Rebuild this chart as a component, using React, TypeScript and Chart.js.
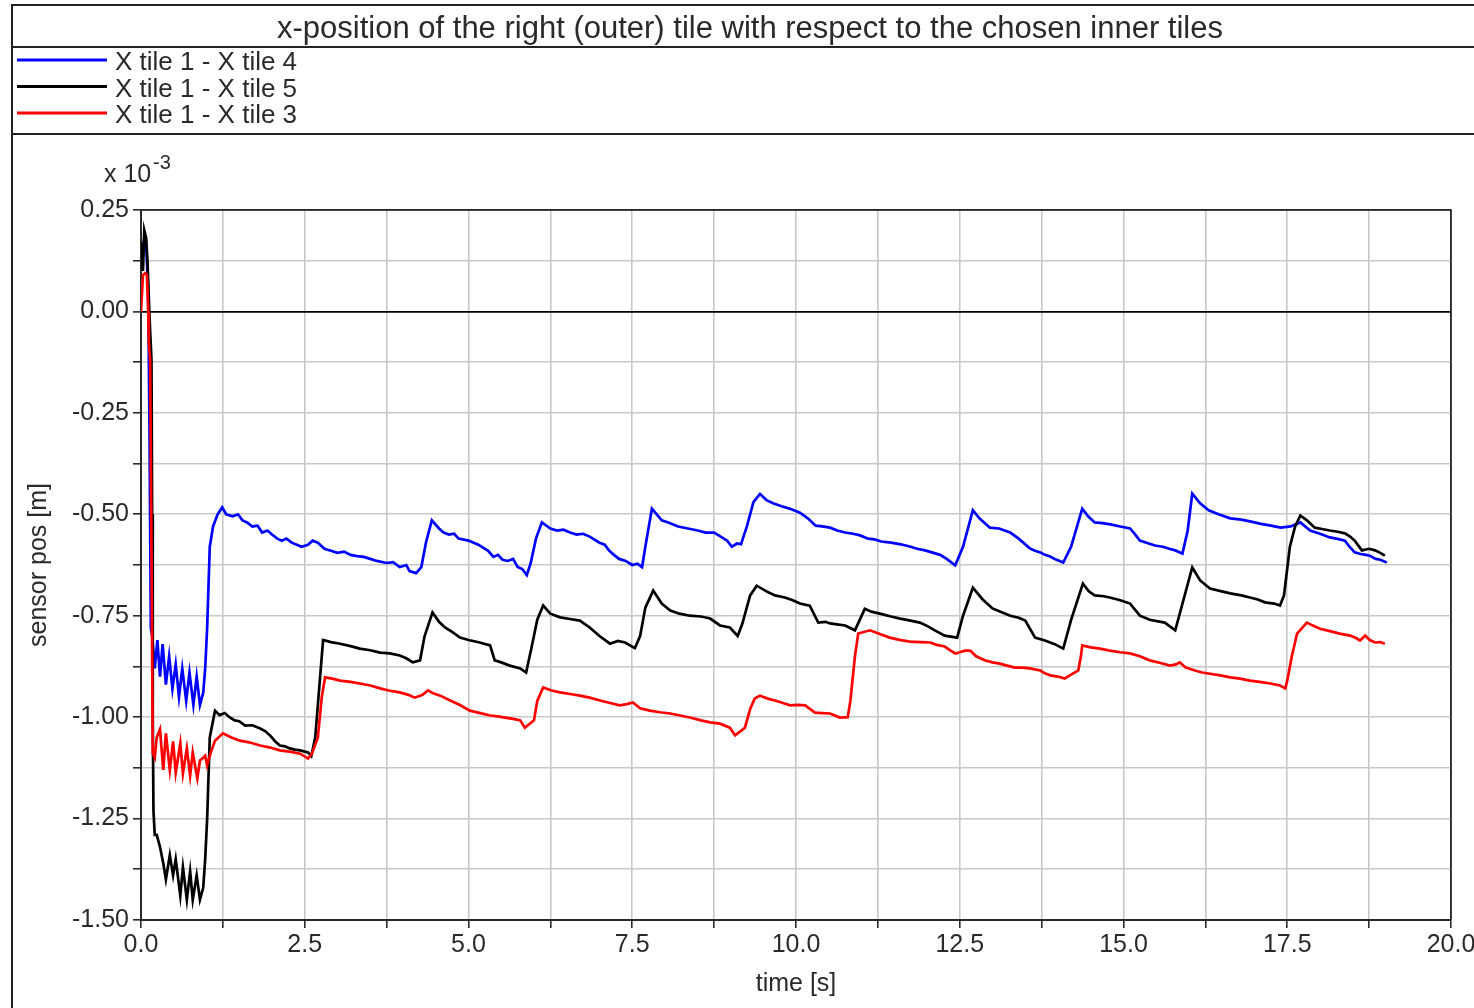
import { useEffect, useRef } from "react";
import { Chart, registerables } from "chart.js";

Chart.register(...registerables);

const FONT = '"Liberation Sans", Arial, Helvetica, sans-serif';
const TEXT_COLOR = "#2a2a2a";

const TITLE = "x-position of the right (outer) tile with respect to the chosen inner tiles";
const SERIES_NAMES = ["X tile 1 - X tile 4", "X tile 1 - X tile 5", "X tile 1 - X tile 3"];
const SERIES_COLORS = ["#0000ff", "#000000", "#ff0000"];
const X_TITLE = "time [s]";
const Y_TITLE = "sensor pos [m]";
const Y_EXPONENT_BASE = "x 10";
const Y_EXPONENT_POWER = "-3";

const X_MIN = 0;
const X_MAX = 20;
const X_GRID_STEP = 1.25;
const X_LABEL_STEP = 2.5;
const Y_MIN = -1.5;
const Y_MAX = 0.25;
const Y_GRID_STEP = 0.125;
const Y_LABEL_STEP = 0.25;

// [time s, position x10^-3 m]
const TILE1_MINUS_TILE4: [number, number][] = [
  [0, 0.12], [0.04, 0.17], [0.08, 0.16], [0.11, 0.05], [0.13, -0.3], [0.15, -0.78], [0.17, -0.8],
  [0.21, -0.88], [0.25, -0.81], [0.29, -0.9], [0.33, -0.82], [0.38, -0.92], [0.43, -0.85], [0.48, -0.93],
  [0.53, -0.87], [0.58, -0.95], [0.63, -0.88], [0.69, -0.96], [0.74, -0.89], [0.8, -0.97], [0.85, -0.9],
  [0.9, -0.97], [0.95, -0.94], [0.98, -0.88], [1.01, -0.78], [1.05, -0.58], [1.1, -0.53], [1.17, -0.5],
  [1.24, -0.483], [1.3, -0.5], [1.4, -0.505], [1.48, -0.5], [1.55, -0.515], [1.62, -0.52], [1.7, -0.53],
  [1.78, -0.528], [1.85, -0.545], [1.93, -0.54], [2.0, -0.55], [2.08, -0.56], [2.15, -0.565], [2.22, -0.56],
  [2.3, -0.57], [2.38, -0.575], [2.45, -0.58], [2.55, -0.575], [2.62, -0.565], [2.7, -0.57], [2.8, -0.585],
  [2.9, -0.59], [3.0, -0.595], [3.1, -0.592], [3.2, -0.6], [3.3, -0.603], [3.4, -0.605], [3.5, -0.61],
  [3.6, -0.615], [3.75, -0.62], [3.85, -0.618], [3.95, -0.63], [4.05, -0.625], [4.1, -0.64], [4.2, -0.645],
  [4.28, -0.63], [4.35, -0.57], [4.44, -0.515], [4.55, -0.535], [4.62, -0.545], [4.7, -0.55], [4.78, -0.548],
  [4.85, -0.56], [5.0, -0.565], [5.08, -0.57], [5.15, -0.575], [5.3, -0.59], [5.38, -0.605], [5.45, -0.6],
  [5.52, -0.612], [5.6, -0.615], [5.68, -0.61], [5.75, -0.63], [5.82, -0.635], [5.89, -0.65], [5.95, -0.62],
  [6.03, -0.56], [6.12, -0.52], [6.25, -0.535], [6.35, -0.54], [6.45, -0.538], [6.55, -0.545], [6.65, -0.55],
  [6.75, -0.548], [6.85, -0.555], [7.0, -0.57], [7.08, -0.575], [7.15, -0.59], [7.22, -0.6], [7.3, -0.61],
  [7.4, -0.615], [7.5, -0.625], [7.58, -0.622], [7.65, -0.63], [7.7, -0.58], [7.8, -0.486], [7.95, -0.515],
  [8.05, -0.52], [8.2, -0.53], [8.35, -0.535], [8.5, -0.54], [8.62, -0.545], [8.75, -0.545], [8.85, -0.555],
  [8.95, -0.565], [9.02, -0.58], [9.1, -0.572], [9.16, -0.574], [9.25, -0.53], [9.35, -0.47], [9.45, -0.45],
  [9.55, -0.465], [9.65, -0.473], [9.78, -0.48], [9.9, -0.486], [10.06, -0.496], [10.18, -0.51], [10.3, -0.528],
  [10.4, -0.53], [10.52, -0.533], [10.63, -0.54], [10.75, -0.545], [10.87, -0.548], [10.98, -0.552], [11.1, -0.56],
  [11.2, -0.562], [11.3, -0.567], [11.45, -0.57], [11.6, -0.574], [11.75, -0.58], [11.85, -0.585], [11.97, -0.589],
  [12.1, -0.595], [12.2, -0.6], [12.3, -0.61], [12.43, -0.626], [12.55, -0.58], [12.7, -0.49], [12.8, -0.51],
  [12.96, -0.533], [13.1, -0.535], [13.27, -0.545], [13.4, -0.56], [13.57, -0.584], [13.65, -0.59], [13.73, -0.594],
  [13.8, -0.6], [13.88, -0.604], [13.95, -0.61], [14.08, -0.619], [14.2, -0.58], [14.37, -0.486], [14.46, -0.505],
  [14.56, -0.52], [14.68, -0.522], [14.8, -0.525], [14.95, -0.53], [15.1, -0.535], [15.18, -0.55], [15.25, -0.565],
  [15.35, -0.57], [15.48, -0.577], [15.6, -0.58], [15.7, -0.585], [15.79, -0.589], [15.9, -0.597], [15.98, -0.54],
  [16.05, -0.449], [16.17, -0.473], [16.3, -0.49], [16.45, -0.5], [16.63, -0.51], [16.8, -0.513], [16.95, -0.518],
  [17.08, -0.523], [17.25, -0.528], [17.4, -0.533], [17.55, -0.53], [17.7, -0.52], [17.85, -0.54], [18.0, -0.548],
  [18.15, -0.557], [18.25, -0.56], [18.38, -0.565], [18.45, -0.58], [18.53, -0.594], [18.62, -0.598], [18.7, -0.6],
  [18.76, -0.602], [18.85, -0.61], [18.92, -0.612], [19.02, -0.619],
];

const TILE1_MINUS_TILE5: [number, number][] = [
  [0, 0.17], [0.03, 0.1], [0.05, 0.2], [0.08, 0.18], [0.1, 0.12], [0.12, 0.03], [0.14, -0.05], [0.16, -0.12],
  [0.17, -0.5], [0.18, -1.0], [0.19, -1.23], [0.21, -1.29], [0.24, -1.29], [0.29, -1.32], [0.34, -1.36],
  [0.38, -1.4], [0.44, -1.34], [0.49, -1.39], [0.53, -1.35], [0.6, -1.44], [0.64, -1.37], [0.7, -1.45],
  [0.75, -1.38], [0.79, -1.45], [0.85, -1.39], [0.9, -1.45], [0.95, -1.42], [0.98, -1.35], [1.01, -1.25],
  [1.05, -1.05], [1.13, -0.984], [1.2, -0.995], [1.28, -0.99], [1.35, -1.0], [1.43, -1.008], [1.5, -1.01],
  [1.59, -1.021], [1.7, -1.02], [1.82, -1.028], [1.9, -1.035], [1.97, -1.045], [2.05, -1.06], [2.12, -1.07],
  [2.2, -1.072], [2.27, -1.077], [2.35, -1.08], [2.43, -1.082], [2.5, -1.085], [2.55, -1.087], [2.6, -1.096],
  [2.66, -1.05], [2.72, -0.93], [2.78, -0.81], [2.9, -0.815], [3.04, -0.819], [3.2, -0.825], [3.34, -0.831],
  [3.5, -0.835], [3.65, -0.841], [3.8, -0.843], [3.95, -0.848], [4.05, -0.855], [4.15, -0.865], [4.26, -0.86],
  [4.33, -0.8], [4.45, -0.742], [4.55, -0.765], [4.64, -0.779], [4.75, -0.79], [4.87, -0.804], [5.0, -0.81],
  [5.17, -0.816], [5.33, -0.823], [5.4, -0.86], [5.5, -0.865], [5.63, -0.873], [5.79, -0.88], [5.88, -0.89],
  [5.96, -0.83], [6.05, -0.76], [6.14, -0.725], [6.25, -0.745], [6.4, -0.754], [6.55, -0.758], [6.7, -0.762],
  [6.85, -0.779], [7.0, -0.8], [7.16, -0.819], [7.28, -0.812], [7.39, -0.816], [7.54, -0.83], [7.62, -0.8],
  [7.7, -0.73], [7.82, -0.688], [7.95, -0.72], [8.08, -0.737], [8.22, -0.745], [8.38, -0.75], [8.55, -0.752],
  [8.69, -0.757], [8.84, -0.774], [8.99, -0.779], [9.11, -0.8], [9.18, -0.77], [9.3, -0.7], [9.4, -0.676],
  [9.55, -0.69], [9.68, -0.7], [9.83, -0.705], [9.95, -0.712], [10.06, -0.72], [10.21, -0.725], [10.34, -0.767],
  [10.45, -0.765], [10.52, -0.769], [10.65, -0.772], [10.75, -0.774], [10.9, -0.786], [11.05, -0.733],
  [11.15, -0.74], [11.28, -0.745], [11.45, -0.752], [11.59, -0.757], [11.75, -0.762], [11.89, -0.767],
  [12.0, -0.775], [12.12, -0.786], [12.27, -0.799], [12.46, -0.804], [12.55, -0.75], [12.7, -0.681],
  [12.85, -0.71], [13.0, -0.732], [13.15, -0.742], [13.27, -0.75], [13.4, -0.755], [13.5, -0.762],
  [13.65, -0.804], [13.8, -0.811], [13.95, -0.82], [14.08, -0.831], [14.2, -0.76], [14.38, -0.671],
  [14.47, -0.69], [14.56, -0.7], [14.7, -0.702], [14.79, -0.705], [14.95, -0.712], [15.1, -0.72], [15.25, -0.75],
  [15.4, -0.76], [15.63, -0.767], [15.79, -0.786], [15.9, -0.72], [16.05, -0.631], [16.17, -0.663],
  [16.32, -0.683], [16.5, -0.69], [16.63, -0.695], [16.8, -0.7], [16.93, -0.705], [17.05, -0.71], [17.16, -0.717],
  [17.3, -0.72], [17.39, -0.725], [17.45, -0.7], [17.54, -0.58], [17.62, -0.53], [17.7, -0.503], [17.8, -0.515],
  [17.92, -0.533], [18.05, -0.537], [18.15, -0.54], [18.27, -0.543], [18.38, -0.547], [18.46, -0.555],
  [18.53, -0.565], [18.64, -0.589], [18.75, -0.585], [18.84, -0.589], [18.92, -0.595], [18.99, -0.602],
];

const TILE1_MINUS_TILE3: [number, number][] = [
  [0, 0.0], [0.03, 0.09], [0.06, 0.094], [0.09, 0.09], [0.11, 0.0], [0.12, -0.08], [0.14, -0.12], [0.16, -0.6],
  [0.18, -1.09], [0.21, -1.1], [0.24, -1.05], [0.29, -1.03], [0.34, -1.13], [0.38, -1.04], [0.44, -1.13],
  [0.49, -1.06], [0.53, -1.137], [0.6, -1.065], [0.64, -1.139], [0.7, -1.077], [0.75, -1.144], [0.79, -1.087],
  [0.86, -1.151], [0.9, -1.107], [0.95, -1.1], [0.98, -1.095], [1.01, -1.119], [1.06, -1.09], [1.13, -1.058],
  [1.25, -1.04], [1.38, -1.05], [1.51, -1.058], [1.65, -1.062], [1.82, -1.07], [1.97, -1.075], [2.12, -1.082],
  [2.27, -1.085], [2.43, -1.09], [2.55, -1.102], [2.61, -1.09], [2.7, -1.05], [2.76, -0.95], [2.81, -0.902],
  [2.92, -0.905], [3.04, -0.91], [3.2, -0.913], [3.34, -0.917], [3.5, -0.922], [3.65, -0.929], [3.8, -0.935],
  [3.95, -0.939], [4.08, -0.945], [4.18, -0.952], [4.3, -0.945], [4.38, -0.934], [4.47, -0.942], [4.57, -0.947],
  [4.72, -0.959], [4.87, -0.97], [5.02, -0.984], [5.18, -0.99], [5.33, -0.996], [5.45, -0.998], [5.56, -1.001],
  [5.7, -1.005], [5.79, -1.008], [5.86, -1.026], [6.0, -1.008], [6.05, -0.96], [6.14, -0.927], [6.28, -0.935],
  [6.4, -0.939], [6.55, -0.943], [6.7, -0.947], [6.85, -0.952], [7.01, -0.959], [7.16, -0.965], [7.31, -0.971],
  [7.42, -0.968], [7.51, -0.964], [7.62, -0.978], [7.77, -0.984], [7.92, -0.988], [8.08, -0.991], [8.23, -0.996],
  [8.38, -1.001], [8.55, -1.008], [8.69, -1.013], [8.84, -1.016], [8.99, -1.026], [9.07, -1.045], [9.15, -1.035],
  [9.22, -1.026], [9.3, -0.98], [9.37, -0.954], [9.45, -0.947], [9.58, -0.955], [9.68, -0.959], [9.8, -0.965],
  [9.91, -0.971], [10.02, -0.97], [10.14, -0.971], [10.29, -0.989], [10.4, -0.99], [10.52, -0.991],
  [10.67, -1.001], [10.79, -1.0], [10.83, -0.96], [10.9, -0.85], [10.95, -0.794], [11.13, -0.786],
  [11.28, -0.795], [11.43, -0.804], [11.6, -0.81], [11.74, -0.814], [11.9, -0.815], [12.05, -0.816],
  [12.15, -0.822], [12.27, -0.826], [12.35, -0.835], [12.43, -0.843], [12.5, -0.84], [12.58, -0.836],
  [12.66, -0.836], [12.75, -0.85], [12.88, -0.86], [13.0, -0.865], [13.11, -0.868], [13.22, -0.873],
  [13.34, -0.878], [13.45, -0.878], [13.57, -0.88], [13.73, -0.885], [13.8, -0.892], [13.88, -0.897],
  [14.0, -0.9], [14.1, -0.905], [14.2, -0.895], [14.31, -0.885], [14.35, -0.85], [14.37, -0.823], [14.5, -0.828],
  [14.64, -0.831], [14.79, -0.836], [14.95, -0.84], [15.1, -0.843], [15.25, -0.85], [15.4, -0.86],
  [15.55, -0.866], [15.71, -0.873], [15.8, -0.87], [15.86, -0.865], [15.95, -0.878], [16.09, -0.885],
  [16.2, -0.89], [16.32, -0.893], [16.48, -0.897], [16.63, -0.902], [16.78, -0.905], [16.93, -0.91],
  [17.08, -0.913], [17.24, -0.917], [17.39, -0.922], [17.47, -0.929], [17.5, -0.91], [17.57, -0.85],
  [17.65, -0.794], [17.8, -0.767], [17.9, -0.775], [18.0, -0.782], [18.15, -0.788], [18.3, -0.794],
  [18.46, -0.799], [18.55, -0.805], [18.61, -0.811], [18.69, -0.799], [18.76, -0.81], [18.84, -0.816],
  [18.92, -0.815], [18.99, -0.819],
];

const SERIES_DATA = [TILE1_MINUS_TILE4, TILE1_MINUS_TILE5, TILE1_MINUS_TILE3];

const isMultiple = (v: number, step: number) => Math.abs(Math.round(v / step) * step - v) < 1e-6;

const framePlugin = {
  id: "frameAndLegend",
  beforeDraw(chart: any) {
    const ctx = chart.ctx;
    ctx.save();
    ctx.fillStyle = "#ffffff";
    ctx.fillRect(0, 0, chart.width, chart.height);
    ctx.restore();
  },
  afterDraw(chart: any) {
    const ctx = chart.ctx as CanvasRenderingContext2D;
    const { left, top, right, bottom } = chart.chartArea;
    ctx.save();
    // plot box top / right
    ctx.strokeStyle = TEXT_COLOR;
    ctx.lineWidth = 1.5;
    ctx.beginPath();
    ctx.moveTo(left, top);
    ctx.lineTo(right, top);
    ctx.lineTo(right, bottom);
    ctx.stroke();

    // outer frame with title and legend boxes
    ctx.strokeStyle = "#222222";
    ctx.lineWidth = 2;
    ctx.beginPath();
    ctx.moveTo(12, chart.height);
    ctx.lineTo(12, 5);
    ctx.lineTo(chart.width, 5);
    ctx.moveTo(12, 47);
    ctx.lineTo(chart.width, 47);
    ctx.moveTo(12, 134);
    ctx.lineTo(chart.width, 134);
    ctx.stroke();

    // title
    ctx.fillStyle = TEXT_COLOR;
    ctx.font = `31px ${FONT}`;
    ctx.textAlign = "center";
    ctx.textBaseline = "alphabetic";
    ctx.fillText(TITLE, 750, 38);

    // legend
    const rows = [60, 86.5, 113];
    ctx.font = `26px ${FONT}`;
    ctx.textAlign = "left";
    SERIES_NAMES.forEach((name, i) => {
      ctx.strokeStyle = SERIES_COLORS[i];
      ctx.lineWidth = 2.8;
      ctx.beginPath();
      ctx.moveTo(17, rows[i]);
      ctx.lineTo(107, rows[i]);
      ctx.stroke();
      ctx.fillStyle = TEXT_COLOR;
      ctx.fillText(name, 115, rows[i] + 10);
    });

    // exponent
    ctx.font = `25px ${FONT}`;
    ctx.fillText(Y_EXPONENT_BASE, 104, 182);
    ctx.font = `20px ${FONT}`;
    ctx.fillText(Y_EXPONENT_POWER, 153, 169);
    ctx.restore();
  },
};

export default function App() {
  const canvasRef = useRef<HTMLCanvasElement | null>(null);

  useEffect(() => {
    if (!canvasRef.current) return;
    const tickFont = { size: 25, family: FONT };
    const chart = new Chart(canvasRef.current, {
      type: "line",
      data: {
        datasets: SERIES_NAMES.map((name, i) => ({
          label: name,
          data: SERIES_DATA[i].map(([x, y]) => ({ x, y })),
          borderColor: SERIES_COLORS[i],
          backgroundColor: SERIES_COLORS[i],
          borderWidth: 2.7,
          pointRadius: 0,
          tension: 0,
          fill: false,
          borderJoinStyle: "miter",
          order: 3 - i,
        })),
      },
      options: {
        animation: false,
        responsive: false,
        devicePixelRatio: 1,
        events: [],
        layout: { padding: { left: 0, top: 210, right: 23, bottom: 0 }, autoPadding: false },
        plugins: {
          legend: { display: false },
          title: { display: false },
          tooltip: { enabled: false },
        },
        scales: {
          x: {
            type: "linear",
            min: X_MIN,
            max: X_MAX,
            ticks: {
              stepSize: X_GRID_STEP,
              autoSkip: false,
              maxRotation: 0,
              color: TEXT_COLOR,
              font: tickFont,
              padding: 2,
              callback: (v: any) => (isMultiple(Number(v), X_LABEL_STEP) ? Number(v).toFixed(1) : ""),
            },
            grid: {
              color: (c: any) => (c.tick && Math.abs(c.tick.value - X_MAX) < 1e-6 ? TEXT_COLOR : "#c8c8c8"),
              lineWidth: 1.6,
              tickLength: 8,
              tickColor: TEXT_COLOR,
              tickWidth: 1.6,
            },
            border: { color: TEXT_COLOR, width: 2 },
            title: {
              display: true,
              text: X_TITLE,
              color: TEXT_COLOR,
              font: { size: 25, family: FONT },
              padding: { top: 0, bottom: 9 },
            },
            afterFit: (s: any) => {
              s.height = 88;
              s.paddingLeft = 0;
              s.paddingRight = 0;
            },
          },
          y: {
            type: "linear",
            min: Y_MIN,
            max: Y_MAX,
            ticks: {
              stepSize: Y_GRID_STEP,
              autoSkip: false,
              color: TEXT_COLOR,
              font: tickFont,
              padding: 4,
              callback: (v: any) => (isMultiple(Number(v), Y_LABEL_STEP) ? Number(v).toFixed(2) : ""),
            },
            grid: {
              color: (c: any) => {
                if (!c.tick) return "#c8c8c8";
                if (Math.abs(c.tick.value) < 1e-6) return "#000000";
                if (Math.abs(c.tick.value - Y_MAX) < 1e-6) return TEXT_COLOR;
                return "#c8c8c8";
              },
              lineWidth: (c: any) => (c.tick && Math.abs(c.tick.value) < 1e-6 ? 1.8 : 1.6),
              tickLength: 8,
              tickColor: TEXT_COLOR,
              tickWidth: 1.6,
            },
            border: { color: TEXT_COLOR, width: 2 },
            title: {
              display: true,
              text: Y_TITLE,
              color: TEXT_COLOR,
              font: { size: 25, family: FONT },
              padding: { top: 24, bottom: 0 },
            },
            afterFit: (s: any) => {
              s.width = 141;
              s.paddingTop = 0;
              s.paddingBottom = 0;
            },
          },
        },
      },
      plugins: [framePlugin],
    } as any);
    return () => chart.destroy();
  }, []);

  return (
    <div style={{ position: "absolute", left: 0, top: 0, width: 1474, height: 1008, background: "#fff" }}>
      <canvas ref={canvasRef} width={1474} height={1008} style={{ display: "block" }} />
    </div>
  );
}
